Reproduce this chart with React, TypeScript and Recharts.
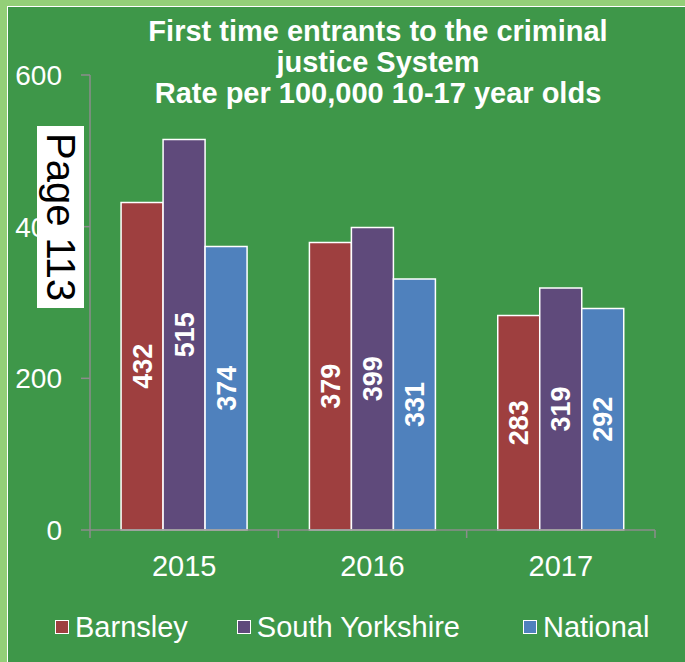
import React from "react";
import { Bar, BarChart, LabelList, XAxis, YAxis } from "recharts";

const categories = ["2015", "2016", "2017"];
const barnsley = [432, 379, 283];
const southYorkshire = [515, 399, 319];
const national = [374, 331, 292];
const yTicks = [0, 200, 400, 600];

const seriesInfo = [
  { key: "barnsley", name: "Barnsley", color: "#9e3f3f" },
  { key: "southYorkshire", name: "South Yorkshire", color: "#5f4a7b" },
  { key: "national", name: "National", color: "#4f81bd" },
];

const data = categories.map((year, i) => ({
  year,
  barnsley: barnsley[i],
  southYorkshire: southYorkshire[i],
  national: national[i],
}));

const FONT = '"Liberation Sans", Arial, sans-serif';
const AXIS = "#8c8c8c";

// x tick: label at the middle of the band, tick marks on band edges
function YearTick(props: any) {
  const { x, y, payload, index } = props;
  const half = payload && payload.offset ? payload.offset : 94;
  return (
    <g>
      <line x1={x - half} y1={y} x2={x - half} y2={y + 8} stroke={AXIS} strokeWidth={1.5} />
      {index === categories.length - 1 && (
        <line x1={x + half} y1={y} x2={x + half} y2={y + 8} stroke={AXIS} strokeWidth={1.5} />
      )}
      <text x={x} y={y + 46} textAnchor="middle" fill="#fff" fontSize={29} fontFamily={FONT}>
        {payload.value}
      </text>
    </g>
  );
}

function LegendBox() {
  const gaps = [49, 63, 0];
  return (
    <div
      style={{
        position: "absolute",
        top: 611,
        left: 0,
        display: "flex",
        alignItems: "center",
        paddingLeft: 55,
        fontFamily: FONT,
      }}
    >
      {seriesInfo.map((s, i) => (
        <div key={s.key} style={{ display: "flex", alignItems: "center", marginRight: gaps[i] }}>
          <span
            style={{
              width: 12,
              height: 12,
              background: s.color,
              border: "1.5px solid #fff",
              display: "inline-block",
              marginRight: 6,
            }}
          />
          <span style={{ color: "#fff", fontSize: 29, lineHeight: "32px" }}>{s.name}</span>
        </div>
      ))}
    </div>
  );
}

export default function App() {
  return (
    <div
      style={{
        position: "absolute",
        top: 0,
        left: 0,
        width: 685,
        height: 662,
        background: "#93cf78",
        fontFamily: FONT,
        overflow: "hidden",
      }}
    >
      <div
        style={{
          position: "absolute",
          top: 6,
          left: 7,
          width: 685 - 7,
          height: 662 - 6,
          background: "#3e9749",
          borderTop: "1.5px solid #fff",
          borderLeft: "1.5px solid #fff",
          boxSizing: "border-box",
        }}
      />
      <div style={{ position: "absolute", top: 0, left: 0 }}>
        <BarChart
          width={685}
          height={662}
          data={data}
          margin={{ top: 75, right: 30, bottom: 102, left: 8 }}
          barCategoryGap="16.5%"
          barGap={0}
        >
          <YAxis
            domain={[0, 600]}
            ticks={yTicks}
            width={82}
            axisLine={{ stroke: AXIS, strokeWidth: 1.5 }}
            tickLine={{ stroke: AXIS, strokeWidth: 1.5 }}
            tickSize={9}
            tickMargin={19}
            tick={{ fill: "#fff", fontSize: 28, fontFamily: FONT }}
          />
          <XAxis
            dataKey="year"
            height={30}
            axisLine={{ stroke: AXIS, strokeWidth: 1.5 }}
            tickLine={false}
            tickSize={0}
            tickMargin={0}
            tick={<YearTick />}
            interval={0}
          />
          {seriesInfo.map((s) => (
            <Bar
              key={s.key}
              dataKey={s.key}
              name={s.name}
              fill={s.color}
              stroke="#fff"
              strokeWidth={1.5}
              isAnimationActive={false}
            >
              <LabelList
                dataKey={s.key}
                position="center"
                angle={-90}
                fill="#fff"
                fontSize={27}
                fontWeight="bold"
                fontFamily={FONT}
              />
            </Bar>
          ))}
        </BarChart>
      </div>
      <LegendBox />
      <div
        style={{
          position: "absolute",
          top: 16,
          left: 80,
          width: 596,
          textAlign: "center",
          color: "#fff",
          fontWeight: "bold",
          fontSize: 29,
          lineHeight: "31px",
        }}
      >
        First time entrants to the criminal
        <br />
        justice System
        <br />
        Rate per 100,000 10-17 year olds
      </div>
      <div
        style={{
          position: "absolute",
          top: 126,
          left: 37,
          width: 47,
          height: 182,
          background: "#fff",
          color: "#000",
          fontSize: 40,
          writingMode: "vertical-rl",
          display: "flex",
          alignItems: "center",
          justifyContent: "center",
          lineHeight: "47px",
        }}
      >
        Page 113
      </div>
    </div>
  );
}
